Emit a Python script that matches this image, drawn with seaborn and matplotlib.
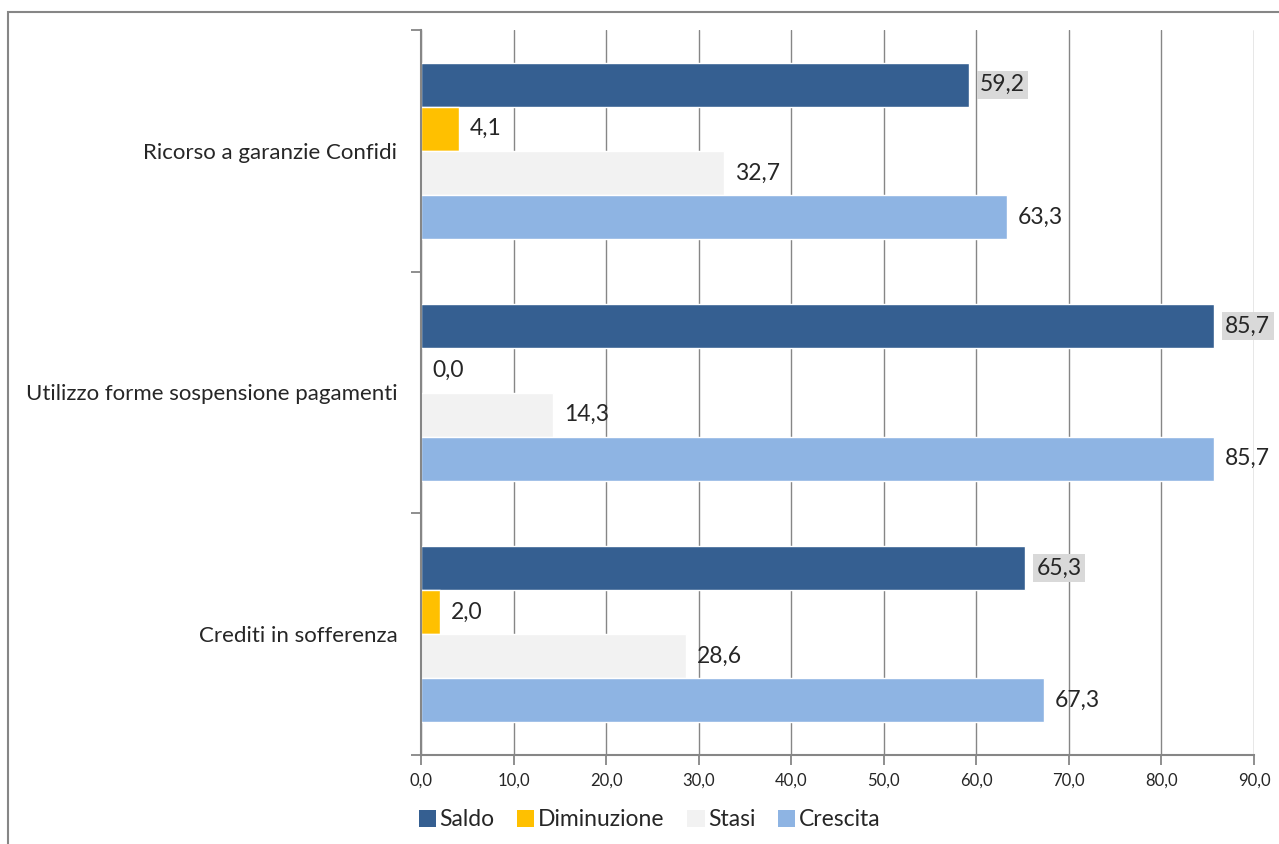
import pandas as pd
import matplotlib.pyplot as plt
import seaborn as sns
from matplotlib.patches import Rectangle, Patch

# dati
categorie = ['Ricorso a garanzie Confidi',
             'Utilizzo forme sospensione pagamenti',
             'Crediti in sofferenza']
serie = ['Saldo', 'Diminuzione', 'Stasi', 'Crescita']
saldo = [59.2, 85.7, 65.3]
diminuzione = [4.1, 0.0, 2.0]
stasi = [32.7, 14.3, 28.6]
crescita = [63.3, 85.7, 67.3]
x_ticks = [0, 10, 20, 30, 40, 50, 60, 70, 80, 90]

colori = {'Saldo': '#355f91', 'Diminuzione': '#ffc000',
          'Stasi': '#f2f2f2', 'Crescita': '#8eb4e3'}

valori = {'Saldo': saldo, 'Diminuzione': diminuzione,
          'Stasi': stasi, 'Crescita': crescita}
rows = []
for s in serie:
    for c, v in zip(categorie, valori[s]):
        rows.append({'Categoria': c, 'Serie': s, 'Valore': v})
df = pd.DataFrame(rows)

sns.set_style('white')
plt.rcParams['font.family'] = ['Lato', 'DejaVu Sans']

fig = plt.figure(figsize=(12.79, 8.44), dpi=100)
ax = fig.add_axes([421 / 1279, 1 - 755 / 844, (1254 - 421) / 1279, (755 - 30) / 844])

sns.barplot(data=df, y='Categoria', x='Valore', hue='Serie', order=categorie,
            hue_order=serie, palette=colori, orient='h', width=0.73,
            dodge=True, legend=False, ax=ax, saturation=1)

# etichette dei valori
for cont, s in zip(ax.containers, serie):
    labels = [f'{v:.1f}'.replace('.', ',') for v in valori[s]]
    if s == 'Saldo':
        ax.bar_label(cont, labels=labels, padding=8, fontsize=16.5,
                     bbox=dict(facecolor='#d9d9d9', edgecolor='none', pad=2.5))
    else:
        ax.bar_label(cont, labels=labels, padding=8, fontsize=16.5)

ax.set_xlim(0, 90)
ax.set_ylim(2.5, -0.5)
ax.set_xticks(x_ticks)
ax.set_xticklabels([f'{t:.1f}'.replace('.', ',') for t in x_ticks], fontsize=12)
ax.set_yticks([-0.5, 0.5, 1.5, 2.5])
ax.set_yticklabels([])
ax.set_yticks(range(len(categorie)), minor=True)
ax.set_yticklabels(categorie, minor=True, fontsize=16)
ax.tick_params(axis='y', which='minor', length=0, pad=17)
ax.tick_params(axis='y', which='major', length=7, color='#868686', width=1.3, left=True)
ax.tick_params(axis='x', length=7, color='#868686', width=1.3, bottom=True, pad=6)
ax.set_xlabel('')
ax.set_ylabel('')

ax.grid(axis='x', color='#868686', linewidth=1.0)
ax.set_axisbelow(True)
for side in ['top', 'right']:
    ax.spines[side].set_visible(False)
for side in ['left', 'bottom']:
    ax.spines[side].set_color('#868686')
    ax.spines[side].set_linewidth(1.5)

# legenda
handles = [Patch(facecolor=colori[s], edgecolor='none') for s in serie]
fig.legend(handles, serie, loc='center left', bbox_to_anchor=(398 / 1279, 1 - 820 / 844),
           ncol=4, frameon=False, fontsize=16.5, handlelength=0.75, handleheight=0.75,
           handletextpad=0.15, columnspacing=1.0)

# cornice
fig.patches.append(Rectangle((8 / 1279, -0.1), 1.2, 1 - 12 / 844 + 0.1,
                             transform=fig.transFigure, fill=False,
                             edgecolor='#868686', linewidth=1.5))

fig.savefig('out.png', dpi=100)
